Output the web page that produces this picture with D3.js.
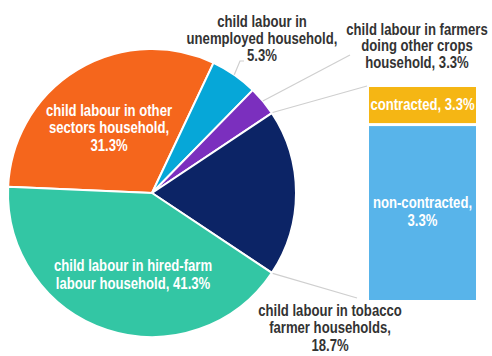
<!DOCTYPE html>
<html>
<head>
<meta charset="utf-8">
<style>
  body { margin: 0; background: #fff; }
  svg text { font-family: "Liberation Sans", Arial, sans-serif; font-weight: bold; }
</style>
</head>
<body>
<div id="container"></div>
<script src="https://cdn.jsdelivr.net/npm/d3@7"></script>
<script>

// pie slices, clockwise starting from the orange one
const categories = ["other sectors", "unemployed", "farmers doing other crops", "tobacco farmer", "hired-farm labour"];
const values = [31.3, 5.3, 3.3, 18.7, 41.3];
const colors = ["#f5661c", "#06a7d8", "#7b2fbe", "#0c2466", "#33c6a4"];
const labelLines = [
    ["child labour in other", "sectors household,", "31.3%"],
    ["child labour in", "unemployed household,", "5.3%"],
    ["child labour in farmers", "doing other crops", "household, 3.3%"],
    ["child labour in tobacco", "farmer households,", "18.7%"],
    ["child labour in hired-farm", "labour household, 41.3%"]
];

// bar breaking down the tobacco slice
const barParts = ["contracted", "non-contracted"];
const barValues = [3.3, 15.4];
const barColors = ["#f5b614", "#58b4ea"];
const barLabels = [["contracted, 3.3%"], ["non-contracted,", "3.3%"]];

const W = 492, H = 356;
const cx = 152, cy = 193, R = 144;

const svg = d3.select("#container")
    .append("svg")
    .attr("width", W)
    .attr("height", H);

const pie = d3.pie()
    .sort(null)
    .startAngle(-87.5 * Math.PI / 180)
    .endAngle((360 - 87.5) * Math.PI / 180);

const arcs = pie(values);
const arc = d3.arc().innerRadius(0).outerRadius(R);

const g = svg.append("g").attr("transform", `translate(${cx},${cy})`);

g.selectAll("path")
    .data(arcs)
    .join("path")
    .attr("d", arc)
    .attr("fill", (d, i) => colors[i])
    .attr("stroke", "#fff")
    .attr("stroke-width", 2)
    .attr("stroke-linejoin", "round");

// point on the rim at angle a
function rim(a, r) {
    return [cx + r * Math.sin(a), cy - r * Math.cos(a)];
}

// bar of the tobacco slice
const barX = 369, barW = 107, barTop = 87, barBottom = 300, gap = 3;
const total = d3.sum(barValues);
const y = d3.scaleLinear().domain([0, total]).range([barTop, barBottom]);
let acc = 0;
const barData = barValues.map((v, i) => {
    const d = { i, y0: acc, y1: acc + v };
    acc += v;
    return d;
});

svg.selectAll("rect.bar")
    .data(barData)
    .join("rect")
    .attr("class", "bar")
    .attr("x", barX)
    .attr("width", barW)
    .attr("y", d => y(d.y0) + (d.i > 0 ? gap / 2 : 0))
    .attr("height", d => y(d.y1) - y(d.y0) - gap / 2)
    .attr("fill", d => barColors[d.i]);

// series lines from the tobacco slice to the bar
const tob = arcs[3];
const lineColor = "#cfcfcf";
const p0 = rim(tob.startAngle, R + 1);
const p1 = rim(tob.endAngle, R + 1);
svg.append("line")
    .attr("x1", p0[0]).attr("y1", p0[1])
    .attr("x2", barX - 2).attr("y2", barTop - 1)
    .attr("stroke", lineColor).attr("stroke-width", 1.2);
svg.append("line")
    .attr("x1", p1[0]).attr("y1", p1[1])
    .attr("x2", barX - 12).attr("y2", barBottom - 2)
    .attr("stroke", lineColor).attr("stroke-width", 1.2);

// leader lines for the small slices
const mid = d => (d.startAngle + d.endAngle) / 2;
const b = rim(mid(arcs[1]), R);
svg.append("polyline")
    .attr("points", [b, [240, 61], [244, 61]].map(p => p.join(",")).join(" "))
    .attr("fill", "none").attr("stroke", lineColor).attr("stroke-width", 1.2);
const pu = rim(mid(arcs[2]), R);
svg.append("line")
    .attr("x1", pu[0]).attr("y1", pu[1])
    .attr("x2", 350).attr("y2", 55)
    .attr("stroke", lineColor).attr("stroke-width", 1.2);

// labels, squeezed horizontally to look like a narrow font
function label(lines, x, y0, lh, fill) {
    const t = svg.append("text")
        .attr("text-anchor", "middle")
        .attr("font-size", 16)
        .attr("transform", `translate(${x},0) scale(0.82,1)`)
        .attr("fill", fill);
    lines.forEach((s, k) => {
        t.append("tspan").attr("x", 0).attr("y", y0 + k * lh).text(s);
    });
}

const dark = "#333333";
label(labelLines[0], 109, 116, 17.5, "#fff");
label(labelLines[1], 262, 27, 17, dark);
label(labelLines[2], 417, 35, 16.5, dark);
label(labelLines[3], 330, 316, 17.5, dark);
label(labelLines[4], 133, 271, 18, "#fff");
label(barLabels[0], barX + barW / 2, 110, 17, "#fff");
label(barLabels[1], barX + barW / 2, 208, 18, "#fff");

</script>
</body>
</html>
